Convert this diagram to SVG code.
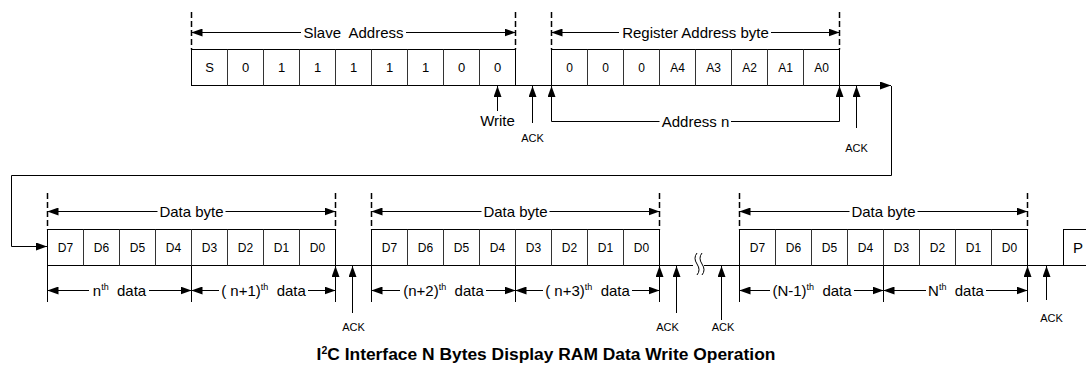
<svg xmlns="http://www.w3.org/2000/svg" width="1086" height="370" viewBox="0 0 1086 370">
<defs>
<marker id="ah" viewBox="0 0 11 8" refX="11" refY="4" markerWidth="11" markerHeight="8" markerUnits="userSpaceOnUse" orient="auto-start-reverse"><path d="M0,0 L11,4 L0,8 z" fill="#000"/></marker>
<style>
.ln{stroke:#000;stroke-width:1;fill:none}
.cell{stroke:#000;stroke-width:1;fill:#fff}
.div{stroke:#333;stroke-width:1}
.dash{stroke:#000;stroke-width:1.5;stroke-dasharray:6,3;fill:none}
.arr{stroke:#000;stroke-width:1;fill:none;marker-end:url(#ah)}
.arr2{stroke:#000;stroke-width:1;fill:none;marker-start:url(#ah)}
text{font-family:"Liberation Sans",Arial,sans-serif;fill:#000}
.lbl{font-size:15px;text-anchor:middle}
.c13{font-size:13px;text-anchor:middle}
.c12{font-size:12px;text-anchor:middle}
.ack{font-size:11px;text-anchor:middle}
.sup{font-size:9px}
.cap{font-size:17.4px;font-weight:bold;text-anchor:middle}
</style>
</defs>

<g id="connectors">
<path class="arr" d="M191.5,85.5 H891"/>
<path class="arr" d="M891.5,86 V175.5 H11.5 V246.5 H47"/>
<path class="ln" d="M335.5,265.5 H693 M704,265.5 H1086"/>
<path class="ln" d="M697,253 q-4,5 0,11 q4,6 0,11 M702,253 q-4,5 0,11 q4,6 0,11"/>
</g>

<g id="slave-address">
<path class="dash" d="M191.5,12 V49.5 M515.5,12 V49.5"/>
<path class="arr2" d="M191.5,32.5 H301"/>
<path class="arr" d="M406,32.5 H515.5"/>
<text class="lbl" x="353.5" y="38">Slave&#160; Address</text>
<rect class="cell" x="191.5" y="49.5" width="324" height="36"/>
<path class="div" d="M227.5,49.5V85.5M263.5,49.5V85.5M299.5,49.5V85.5M335.5,49.5V85.5M371.5,49.5V85.5M407.5,49.5V85.5M443.5,49.5V85.5M479.5,49.5V85.5"/>
<text class="c13" y="72"><tspan x="209.5">S</tspan><tspan x="245.5">0</tspan><tspan x="281.5">1</tspan><tspan x="317.5">1</tspan><tspan x="353.5">1</tspan><tspan x="389.5">1</tspan><tspan x="425.5">1</tspan><tspan x="461.5">0</tspan><tspan x="497.5">0</tspan></text>
</g>

<g id="write-bit">
<path class="arr" d="M497.5,111 V86"/>
<text class="lbl" x="497.5" y="126">Write</text>
</g>

<g id="ack-1">
<path class="arr" d="M532.5,123 V86"/>
<text class="ack" x="532.5" y="142">ACK</text>
</g>

<g id="register-address">
<path class="dash" d="M551.5,12 V49.5 M839.5,12 V49.5"/>
<path class="arr2" d="M551.5,32.5 H619"/>
<path class="arr" d="M771,32.5 H839.5"/>
<text class="lbl" x="695.5" y="38">Register Address byte</text>
<rect class="cell" x="551.5" y="49.5" width="288" height="36"/>
<path class="div" d="M587.5,49.5V85.5M623.5,49.5V85.5M659.5,49.5V85.5M695.5,49.5V85.5M731.5,49.5V85.5M767.5,49.5V85.5M803.5,49.5V85.5"/>
<text class="c12" y="71.5"><tspan x="569.5">0</tspan><tspan x="605.5">0</tspan><tspan x="641.5">0</tspan><tspan x="677.5">A4</tspan><tspan x="713.5">A3</tspan><tspan x="749.5">A2</tspan><tspan x="785.5">A1</tspan><tspan x="821.5">A0</tspan></text>
</g>

<g id="address-n">
<path class="arr" d="M659.5,121.5 H551.5 V86"/>
<path class="arr" d="M731,121.5 H839.5 V86"/>
<text class="lbl" x="695.5" y="127">Address n</text>
</g>

<g id="ack-2">
<path class="arr" d="M856.5,128 V86"/>
<text class="ack" x="856.5" y="151.5">ACK</text>
</g>

<g id="data-byte-1">
<path class="dash" d="M47.5,193 V229.5 M335.5,193 V229.5"/>
<path class="arr2" d="M47.5,211.5 H157.5"/>
<path class="arr" d="M225.5,211.5 H335.5"/>
<text class="lbl" x="191.5" y="217">Data byte</text>
<rect class="cell" x="47.5" y="229.5" width="288" height="36"/>
<path class="div" d="M83.5,229.5V265.5M119.5,229.5V265.5M155.5,229.5V265.5M191.5,229.5V265.5M227.5,229.5V265.5M263.5,229.5V265.5M299.5,229.5V265.5"/>
<text class="c12" y="251.5"><tspan x="65.5">D7</tspan><tspan x="101.5">D6</tspan><tspan x="137.5">D5</tspan><tspan x="173.5">D4</tspan><tspan x="209.5">D3</tspan><tspan x="245.5">D2</tspan><tspan x="281.5">D1</tspan><tspan x="317.5">D0</tspan></text>
<path class="arr" d="M47.5,302 V266 M191.5,302 V266 M335.5,302 V266"/>
<path class="arr2" d="M47.5,290.5 H89"/>
<path class="arr" d="M149,290.5 H191.5"/>
<text class="lbl" x="119.5" y="296">n<tspan class="sup" dy="-6">th</tspan><tspan dy="6">&#160; data</tspan></text>
<path class="arr2" d="M191.5,290.5 H219"/>
<path class="arr" d="M308,290.5 H335.5"/>
<text class="lbl" x="263.5" y="296">( n+1)<tspan class="sup" dy="-6">th</tspan><tspan dy="6">&#160; data</tspan></text>
</g>

<g id="ack-3">
<path class="arr" d="M352.5,313 V266"/>
<text class="ack" x="353.5" y="331">ACK</text>
</g>

<g id="data-byte-2">
<path class="dash" d="M371.5,193 V229.5 M659.5,193 V229.5"/>
<path class="arr2" d="M371.5,211.5 H481.5"/>
<path class="arr" d="M549.5,211.5 H659.5"/>
<text class="lbl" x="515.5" y="217">Data byte</text>
<rect class="cell" x="371.5" y="229.5" width="288" height="36"/>
<path class="div" d="M407.5,229.5V265.5M443.5,229.5V265.5M479.5,229.5V265.5M515.5,229.5V265.5M551.5,229.5V265.5M587.5,229.5V265.5M623.5,229.5V265.5"/>
<text class="c12" y="251.5"><tspan x="389.5">D7</tspan><tspan x="425.5">D6</tspan><tspan x="461.5">D5</tspan><tspan x="497.5">D4</tspan><tspan x="533.5">D3</tspan><tspan x="569.5">D2</tspan><tspan x="605.5">D1</tspan><tspan x="641.5">D0</tspan></text>
<path class="arr" d="M371.5,302 V266 M515.5,302 V266 M659.5,302 V266"/>
<path class="arr2" d="M371.5,290.5 H400"/>
<path class="arr" d="M486,290.5 H515.5"/>
<text class="lbl" x="443.5" y="296">(n+2)<tspan class="sup" dy="-6">th</tspan><tspan dy="6">&#160; data</tspan></text>
<path class="arr2" d="M515.5,290.5 H543"/>
<path class="arr" d="M632,290.5 H659.5"/>
<text class="lbl" x="587.5" y="296">( n+3)<tspan class="sup" dy="-6">th</tspan><tspan dy="6">&#160; data</tspan></text>
</g>

<g id="ack-4">
<path class="arr" d="M676.5,313 V266"/>
<text class="ack" x="667.5" y="331">ACK</text>
</g>

<g id="ack-5">
<path class="arr" d="M721.5,320 V266"/>
<text class="ack" x="723" y="331">ACK</text>
</g>

<g id="data-byte-3">
<path class="dash" d="M739.5,193 V229.5 M1027.5,193 V229.5"/>
<path class="arr2" d="M739.5,211.5 H849.5"/>
<path class="arr" d="M917.5,211.5 H1027.5"/>
<text class="lbl" x="883.5" y="217">Data byte</text>
<rect class="cell" x="739.5" y="229.5" width="288" height="36"/>
<path class="div" d="M775.5,229.5V265.5M811.5,229.5V265.5M847.5,229.5V265.5M883.5,229.5V265.5M919.5,229.5V265.5M955.5,229.5V265.5M991.5,229.5V265.5"/>
<text class="c12" y="251.5"><tspan x="757.5">D7</tspan><tspan x="793.5">D6</tspan><tspan x="829.5">D5</tspan><tspan x="865.5">D4</tspan><tspan x="901.5">D3</tspan><tspan x="937.5">D2</tspan><tspan x="973.5">D1</tspan><tspan x="1009.5">D0</tspan></text>
<path class="arr" d="M739.5,302 V266 M883.5,302 V266 M1027.5,302 V266"/>
<path class="arr2" d="M739.5,290.5 H770"/>
<path class="arr" d="M854,290.5 H883.5"/>
<text class="lbl" x="812" y="296">(N-1)<tspan class="sup" dy="-6">th</tspan><tspan dy="6">&#160; data</tspan></text>
<path class="arr2" d="M883.5,290.5 H926"/>
<path class="arr" d="M986,290.5 H1027.5"/>
<text class="lbl" x="956" y="296">N<tspan class="sup" dy="-6">th</tspan><tspan dy="6">&#160; data</tspan></text>
</g>

<g id="ack-6">
<path class="arr" d="M1046.5,300 V266"/>
<text class="ack" x="1051.5" y="322">ACK</text>
</g>

<g id="stop-P">
<rect class="cell" x="1063.5" y="229.5" width="30" height="36"/>
<text x="1073" y="253" style="font-size:15px">P</text>
</g>

<g id="caption">
<text class="cap" x="546" y="360">I<tspan style="font-size:10.5px" dy="-6">2</tspan><tspan dy="6">C Interface N Bytes Display RAM Data Write Operation</tspan></text>
</g>
</svg>
